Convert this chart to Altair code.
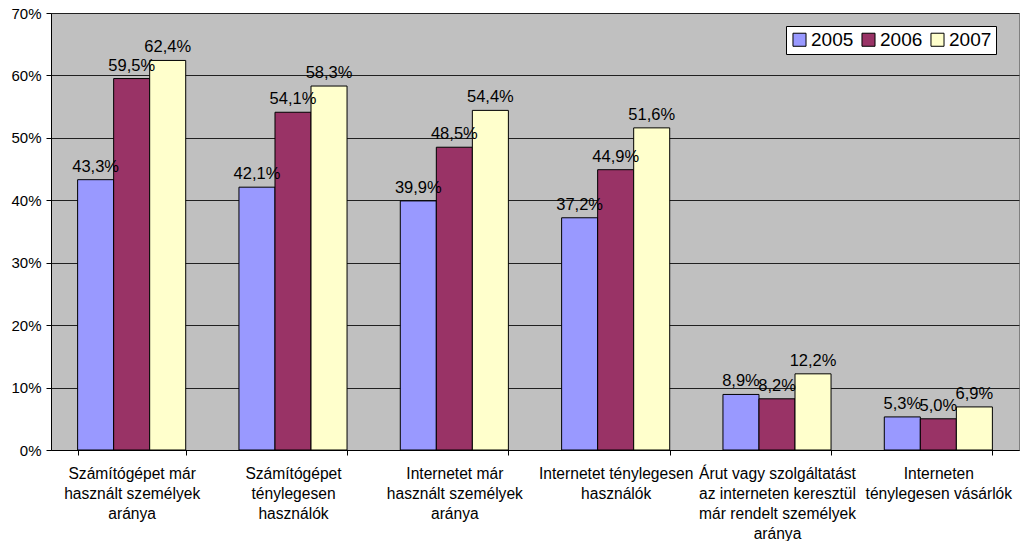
import altair as alt
import pandas as pd

categories = [
    "Számítógépet már\nhasznált személyek\naránya",
    "Számítógépet\nténylegesen\nhasználók",
    "Internetet már\nhasznált személyek\naránya",
    "Internetet ténylegesen\nhasználók",
    "Árut vagy szolgáltatást\naz interneten keresztül\nmár rendelt személyek\naránya",
    "Interneten\nténylegesen vásárlók",
]
years = ["2005", "2006", "2007"]
v2005 = [43.3, 42.1, 39.9, 37.2, 8.9, 5.3]
v2006 = [59.5, 54.1, 48.5, 44.9, 8.2, 5.0]
v2007 = [62.4, 58.3, 54.4, 51.6, 12.2, 6.9]
colors = ["#9999FF", "#993366", "#FFFFCC"]

rows = []
for i, c in enumerate(categories):
    for y, vals in zip(years, [v2005, v2006, v2007]):
        rows.append({"cat": c, "year": y, "value": vals[i] / 100,
                     "label": f"{vals[i]:.1f}%".replace(".", ",")})
df = pd.DataFrame(rows)

FONT = "Liberation Sans"

x = alt.X("cat:N", sort=categories, title=None,
          scale=alt.Scale(paddingInner=0.33, paddingOuter=0.165),
          axis=alt.Axis(labelExpr="split(datum.label, '\\n')", labelAngle=0,
                        labelFontSize=15.6, labelColor="black", labelFont=FONT,
                        labelLineHeight=20, labelPadding=11,
                        tickBand="extent", tickColor="black", tickSize=5,
                        domainColor="black", grid=False, labelLimit=300))
y = alt.Y("value:Q", title=None,
          scale=alt.Scale(domain=[0, 0.7], nice=False),
          axis=alt.Axis(format=".0%", values=[0, 0.1, 0.2, 0.3, 0.4, 0.5, 0.6, 0.7],
                        labelFontSize=15, labelColor="black", labelFont=FONT,
                        tickColor="black", tickSize=5, domainColor="black",
                        gridColor="#202020", gridOpacity=1, labelPadding=5))

bars = alt.Chart(df).mark_bar(stroke="black", strokeWidth=1).encode(
    x=x, y=y, xOffset=alt.XOffset("year:N", sort=years),
    color=alt.Color("year:N", sort=years,
                    scale=alt.Scale(domain=years, range=colors),
                    legend=alt.Legend(title=None, orient="none", direction="horizontal",
                                      legendX=735, legendY=13, symbolType="square",
                                      symbolStrokeColor="black", symbolStrokeWidth=1,
                                      symbolSize=170, labelFontSize=19, labelFont=FONT,
                                      labelColor="black", fillColor="white",
                                      strokeColor="black", padding=4, columnPadding=5,
                                      labelOffset=2)),
)

texts = alt.Chart(df).mark_text(baseline="bottom", dy=-5, fontSize=16.5, font=FONT,
                                 color="black").encode(
    x=alt.X("cat:N", sort=categories), y="value:Q",
    xOffset=alt.XOffset("year:N", sort=years), text="label:N")

chart = (bars + texts).properties(
    width=968, height=437,
    autosize=alt.AutoSizeParams(type="none"),
    padding={"left": 51, "top": 13, "right": 1, "bottom": 91},
).configure_view(fill="#C0C0C0", stroke="#808080", strokeWidth=1)

chart.save("out.html", embed_options={"renderer": "svg", "actions": False})
